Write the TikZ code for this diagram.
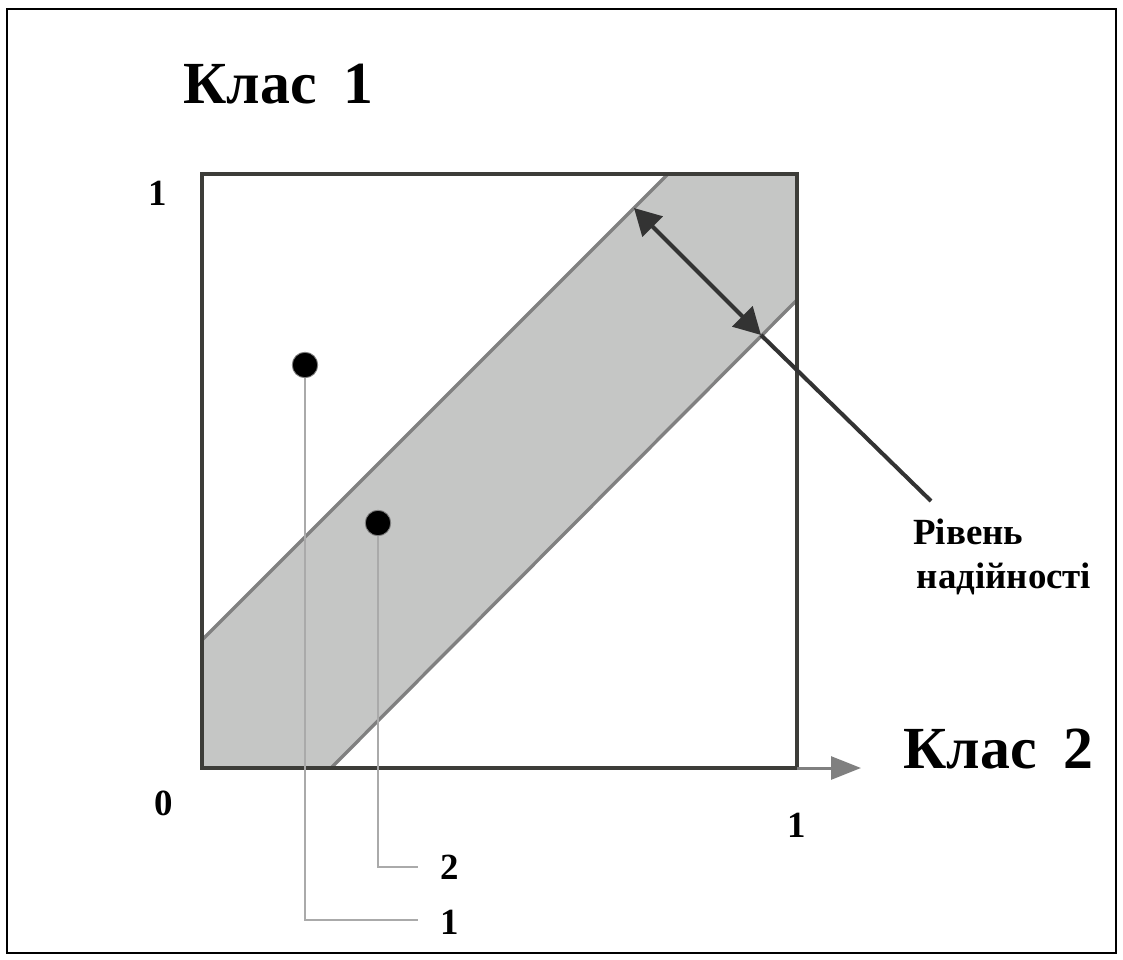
\documentclass[tikz,border=0pt]{standalone}
\usepackage{fontspec}
\setmainfont{Liberation Serif}
\usetikzlibrary{arrows.meta}
\definecolor{bandfill}{HTML}{C5C6C5}
\definecolor{bandline}{HTML}{808080}
\definecolor{sqline}{HTML}{3D3D39}
\definecolor{leadline}{HTML}{AAAAAA}
\definecolor{arrline}{HTML}{333333}
\tikzset{
  frame/.style={draw=black, line width=1.2pt},
  sqbox/.style={draw=sqline, line width=2.4pt},
  bandedge/.style={draw=bandline, line width=1.9pt},
  leader/.style={draw=leadline, line width=1.1pt},
  dotnode/.style={circle, fill=black, draw=bandline, line width=0.5pt, minimum size=14.5pt, inner sep=0pt},
  bigtitle/.style={font=\bfseries\fontsize{34}{40}\selectfont, inner sep=0pt},
  ticklab/.style={font=\bfseries\fontsize{21}{25}\selectfont, inner sep=0pt},
  notelab/.style={font=\bfseries\fontsize{21}{25}\selectfont, inner sep=0pt, align=left},
}
\begin{document}
\begin{tikzpicture}[x=0.02cm,y=-0.02cm]
\useasboundingbox (0,0) rectangle (1123,960);
\draw[frame] (7,9) rectangle (1116,953);
% band
\fill[bandfill] (202,640) -- (668,174) -- (797,174) -- (797,300) -- (331,768) -- (202,768) -- cycle;
\draw[bandedge] (202,640) -- (668,174);
\draw[bandedge] (331,768) -- (797,300);
% square
\coordinate (o) at (202,768);
\coordinate (sx) at (797,768);
\coordinate (sy) at (202,174);
\coordinate (tr) at (797,174);
\draw[sqbox] (o) rectangle (tr);
% axis arrow
\coordinate (axend) at (861,768);
\draw[draw=bandline, line width=1.7pt, -{Triangle[length=17pt,width=13pt]}] (sx) -- (axend);
% confidence arrow
\coordinate (up) at (634,208);
\coordinate (lo) at (761,335);
\coordinate (lend) at (931,501);
\draw[draw=arrline, line width=2.3pt, {Triangle[length=15pt,width=16pt]}-{Triangle[length=15pt,width=16pt]}] (up) -- (lo);
\draw[draw=arrline, line width=2.3pt] (lo) -- (lend);
% dots
\node[dotnode] (d1) at (305,365) {};
\node[dotnode] (d2) at (378,523) {};
\coordinate (c1) at (418,920);
\coordinate (c2) at (418,867);
\draw[leader] (d1.south) |- (c1);
\draw[leader] (d2.south) |- (c2);
\node[ticklab, anchor=west] (l1) at (440,922) {1};
\node[ticklab, anchor=west] (l2) at (440,867) {2};
% texts
\node[bigtitle, anchor=base west] (k1) at (183,103) {Клас\hspace{0.45em}1};
\node[bigtitle, anchor=base west] (k2) at (903,768) {Клас\hspace{0.45em}2};
\node[ticklab, anchor=base] (t1y) at (158,205) {1};
\node[ticklab, anchor=base] (t0) at (164,815) {0};
\node[ticklab, anchor=base] (t1x) at (797,837) {1};
\node[notelab, anchor=base west] (rl) at (913,588) {Рівень\\\hspace{2pt}надійності};
\end{tikzpicture}
\end{document}
